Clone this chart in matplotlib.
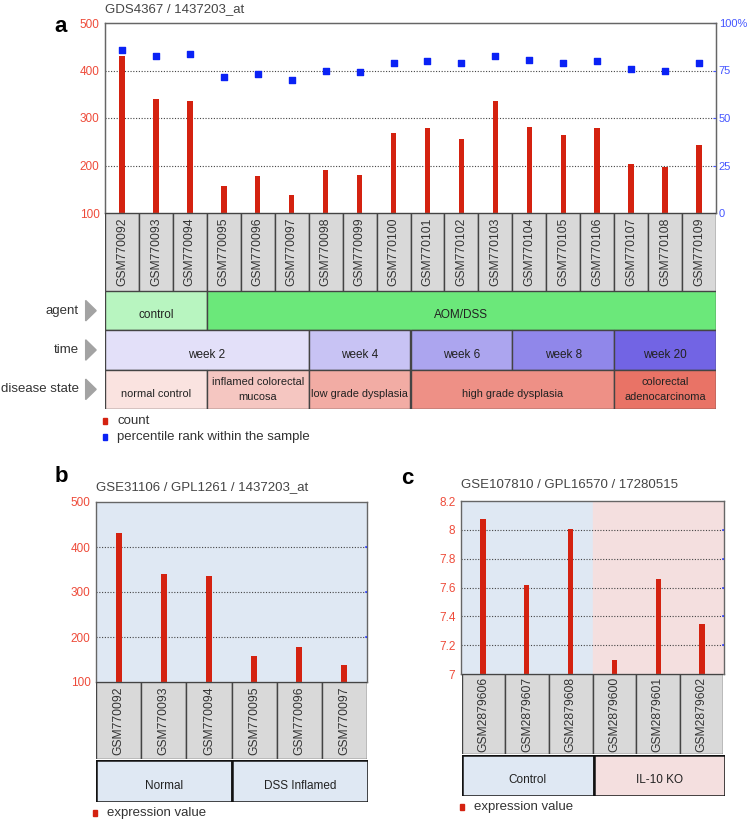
import numpy as np
import matplotlib
matplotlib.use('Agg')
import matplotlib.pyplot as plt
from matplotlib.patches import Rectangle, Polygon

plt.rcParams['font.family'] = ['Liberation Sans', 'DejaVu Sans']

# --- data ---
samples_a = ['GSM770092', 'GSM770093', 'GSM770094', 'GSM770095', 'GSM770096', 'GSM770097',
             'GSM770098', 'GSM770099', 'GSM770100', 'GSM770101', 'GSM770102', 'GSM770103',
             'GSM770104', 'GSM770105', 'GSM770106', 'GSM770107', 'GSM770108', 'GSM770109']
count_a = [431, 339, 336, 156, 177, 137, 191, 179, 268, 278, 256, 336, 282, 265, 278, 203, 196, 244]
rank_a = [85.6, 82.5, 83.7, 71.7, 73.0, 70.0, 74.7, 74.2, 79.0, 80.2, 79.0, 82.6, 80.7, 79.0, 80.2,
          75.8, 74.7, 79.0]

agent_lbl = ['control', 'AOM/DSS']
agent_n = [3, 15]
agent_col = ['#b8f5c0', '#6be87a']
time_lbl = ['week 2', 'week 4', 'week 6', 'week 8', 'week 20']
time_n = [6, 3, 3, 3, 3]
time_col = ['#e3e0f9', '#c8c3f4', '#aca5ef', '#9087ea', '#7264e4']
disease_lbl = ['normal control', 'inflamed colorectal\nmucosa', 'low grade dysplasia',
               'high grade dysplasia', 'colorectal\nadenocarcinoma']
disease_n = [3, 3, 3, 6, 3]
disease_col = ['#fae3e0', '#f5c6c1', '#f2aca4', '#ee9086', '#e97366']

samples_b = ['GSM770092', 'GSM770093', 'GSM770094', 'GSM770095', 'GSM770096', 'GSM770097']
value_b = [431, 339, 336, 157, 177, 137]
group_b = ['Normal', 'DSS Inflamed']
group_b_n = [3, 3]

samples_c = ['GSM2879606', 'GSM2879607', 'GSM2879608', 'GSM2879600', 'GSM2879601', 'GSM2879602']
value_c = [8.078, 7.619, 8.005, 7.10, 7.66, 7.35]
group_c = ['Control', 'IL-10 KO']
group_c_n = [3, 3]

W, H = 749, 823
RED = '#d42210'
TICKRED = '#ee4b3a'
BLUE = '#0a22f5'
BLUE_BG = '#dfe8f3'
PINK_BG = '#f4dfdf'

fig = plt.figure(figsize=(W / 100, H / 100), dpi=100)


def px(l, t, r, b):
    # pixel box -> figure axes
    return fig.add_axes([l / W, 1 - b / H, (r - l) / W, (b - t) / H])


def style_plot(ax, ticks, grid):
    for s in ax.spines.values():
        s.set_color('#666666')
        s.set_linewidth(1)
    ax.set_xticks([])
    ax.set_yticks(ticks)
    ax.set_yticklabels(['%g' % t for t in ticks])
    ax.tick_params(axis='y', length=0, pad=4, labelsize=8.5, labelcolor=TICKRED)
    for g in grid:
        ax.axhline(g, color='#444444', linestyle=(0, (1, 1.5)), linewidth=0.8, zorder=1)


def sample_boxes(ax, names, fs=8.7):
    n = len(names)
    ax.set_xlim(-0.5, n - 0.5)
    ax.set_ylim(0, 1)
    ax.axis('off')
    for i, name in enumerate(names):
        ax.add_patch(Rectangle((i - 0.5, 0), 1, 1, facecolor='#d9d9d9', edgecolor='#444444', lw=1))
        ax.text(i, 0.5, name, rotation=90, ha='center', va='center', fontsize=fs, color='#333333')


def group_row(ax, y, labels, counts, colors, lw=1, ec='#444444', fs=8):
    start = 0
    for lbl, k, c in zip(labels, counts, colors):
        ax.add_patch(Rectangle((start - 0.5, y), k, 1, facecolor=c, edgecolor=ec, lw=lw))
        ty = y + 0.5 if '\n' in lbl else y + 0.62
        ax.text(start - 0.5 + k / 2, ty, lbl, ha='center', va='center', fontsize=fs,
                color='#222222', linespacing=1.7)
        start += k


def legend_item(x, y, color, label):
    fig.add_artist(Rectangle(((x - 2) / W, 1 - (y + 3) / H), 4 / W, 6 / H,
                             transform=fig.transFigure, color=color))
    fig.text((x + 12) / W, 1 - y / H, label, ha='left', va='center', fontsize=9.5, color='#333333')


# ---------------- panel a ----------------
xa = np.arange(len(samples_a))
ax_a = px(105, 23, 716, 213)
ax_a.bar(xa, count_a, width=0.16, color=RED, zorder=2)
ax_a.set_xlim(-0.5, len(samples_a) - 0.5)
ax_a.set_ylim(100, 500)
style_plot(ax_a, [100, 200, 300, 400, 500], [200, 300, 400])

ax_a2 = ax_a.twinx()
ax_a2.scatter(xa, rank_a, marker='s', s=20, color=BLUE, zorder=3)
ax_a2.set_ylim(0, 100)
ax_a2.set_yticks([0, 25, 50, 75, 100])
ax_a2.set_yticklabels(['0', '25', '50', '75', '100%'])
ax_a2.tick_params(axis='y', length=2, direction='in', pad=2, labelsize=8,
                  color='#4455ff', labelcolor='#4455ff')
for s in ax_a2.spines.values():
    s.set_color('#666666')

fig.text(105 / W, 1 - 9 / H, 'GDS4367 / 1437203_at', ha='left', va='center', fontsize=9.5,
         color='#444444')
fig.text(61 / W, 1 - 27 / H, 'a', ha='center', va='center', fontsize=16, fontweight='bold')

sample_boxes(px(105, 213, 716, 291), samples_a)

ax_rows = px(105, 291, 716, 409)
ax_rows.set_xlim(-0.5, len(samples_a) - 0.5)
ax_rows.set_ylim(3, 0)
ax_rows.axis('off')
group_row(ax_rows, 0, agent_lbl, agent_n, agent_col, fs=8.5)
group_row(ax_rows, 1, time_lbl, time_n, time_col, fs=8.5)
group_row(ax_rows, 2, disease_lbl, disease_n, disease_col, fs=7.9)
for r, name in enumerate(['agent', 'time', 'disease state']):
    ax_rows.text(-1.27, r + 0.5, name, ha='right', va='center', fontsize=9.5, color='#333333')
    ax_rows.add_patch(Polygon([(-1.07, r + 0.24), (-1.07, r + 0.76), (-0.76, r + 0.5)],
                              closed=True, color='#a3a3a3', clip_on=False))

legend_item(105, 421, RED, 'count')
legend_item(105, 437, BLUE, 'percentile rank within the sample')

# ---------------- panel b ----------------
xb = np.arange(len(samples_b))
ax_b = px(96, 502, 367, 682)
ax_b.set_facecolor(BLUE_BG)
ax_b.bar(xb, value_b, width=0.13, color=RED, zorder=2)
ax_b.set_xlim(-0.5, len(samples_b) - 0.5)
ax_b.set_ylim(100, 500)
style_plot(ax_b, [100, 200, 300, 400, 500], [200, 300, 400])
for g in [200, 300, 400]:
    ax_b.plot([len(samples_b) - 0.53, len(samples_b) - 0.5], [g, g], color='#3344ff', lw=1.2, zorder=3)

fig.text(96 / W, 1 - 487 / H, 'GSE31106 / GPL1261 / 1437203_at', ha='left', va='center',
         fontsize=9.5, color='#444444')
fig.text(61 / W, 1 - 477 / H, 'b', ha='center', va='center', fontsize=16, fontweight='bold')

sample_boxes(px(96, 682, 367, 759), samples_b)
ax_gb = px(96, 760, 368, 802)
ax_gb.set_xlim(-0.5, len(samples_b) - 0.5)
ax_gb.set_ylim(1, 0)
ax_gb.axis('off')
group_row(ax_gb, 0, group_b, group_b_n, [BLUE_BG, BLUE_BG], lw=1.8, ec='#111111', fs=8.5)
legend_item(95, 813, RED, 'expression value')

# ---------------- panel c ----------------
xc = np.arange(len(samples_c))
ax_c = px(461, 501, 724, 674)
ax_c.axvspan(-0.5, 2.5, color=BLUE_BG, zorder=0)
ax_c.axvspan(2.5, 5.5, color=PINK_BG, zorder=0)
ax_c.bar(xc, value_c, width=0.12, color=RED, zorder=2)
ax_c.set_xlim(-0.5, len(samples_c) - 0.5)
ax_c.set_ylim(7, 8.2)
style_plot(ax_c, [7, 7.2, 7.4, 7.6, 7.8, 8, 8.2], [7.2, 7.4, 7.6, 7.8, 8.0])
for g in [7.2, 7.4, 7.6, 7.8, 8.0]:
    ax_c.plot([len(samples_c) - 0.53, len(samples_c) - 0.5], [g, g], color='#3344ff', lw=1.2, zorder=3)

fig.text(461 / W, 1 - 485 / H, 'GSE107810 / GPL16570 / 17280515', ha='left', va='center',
         fontsize=9.5, color='#444444')
fig.text(407 / W, 1 - 479 / H, 'c', ha='center', va='center', fontsize=16, fontweight='bold')

sample_boxes(px(462, 674, 723, 754), samples_c)
ax_gc = px(462, 755, 725, 796)
ax_gc.set_xlim(-0.5, len(samples_c) - 0.5)
ax_gc.set_ylim(1, 0)
ax_gc.axis('off')
group_row(ax_gc, 0, group_c, group_c_n, [BLUE_BG, PINK_BG], lw=1.8, ec='#111111', fs=8.5)
legend_item(462, 807, RED, 'expression value')

fig.savefig('out.png', dpi=100)
